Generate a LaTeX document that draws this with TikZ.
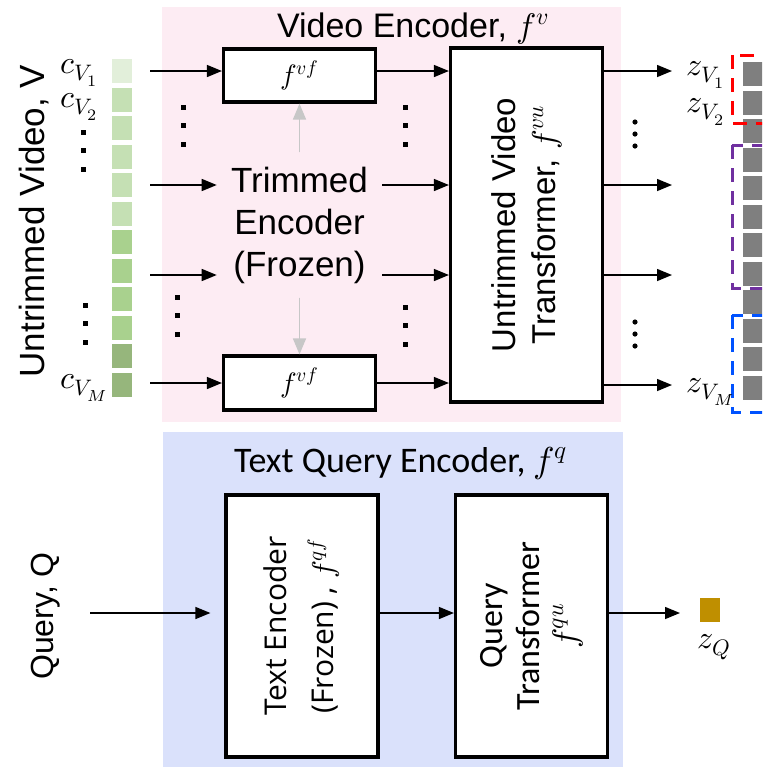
\documentclass[tikz,border=0pt]{standalone}
\usepackage{fontspec}
\usepackage{unicode-math}
\setmainfont{Liberation Sans}
\newfontfamily\calibri{Carlito}
\newfontfamily\opensans{Open Sans}
\usetikzlibrary{arrows.meta, positioning, calc}

\definecolor{vidbg}{RGB}{253,236,243}
\definecolor{qrybg}{RGB}{218,225,251}
\definecolor{gA}{RGB}{226,239,218}
\definecolor{gB}{RGB}{197,224,180}
\definecolor{gC}{RGB}{169,209,142}
\definecolor{gD}{RGB}{150,182,124}
\definecolor{feat}{RGB}{127,127,127}
\definecolor{gold}{RGB}{191,143,0}
\definecolor{dpurple}{RGB}{112,48,160}
\definecolor{dblue}{RGB}{0,82,255}

\tikzset{
  arr/.style={-{Triangle[length=7.5pt,width=6pt]}, line width=0.75pt},
  garr/.style={-{Triangle[length=8pt,width=6.5pt]}, line width=0.8pt, draw=black!22, fill=black!22},
  blk/.style={draw, line width=1.6pt, fill=white, minimum width=76pt, inner sep=0pt},
  lbl/.style={font=\fontsize{17}{20}\selectfont},
  mlbl/.style={anchor=base west, inner sep=0pt, font=\fontsize{16}{18}\selectfont},
  grp/.style={line width=1.5pt, dash pattern=on 7pt off 4.5pt},
}

\begin{document}
\begin{tikzpicture}[x=0.5pt, y=-0.5pt]
    \useasboundingbox (0,0) rectangle (762,767);
    \clip (0,0) rectangle (762,767);

    % background panels
    \fill[vidbg] (162,7) rectangle (621,422);
    \fill[qrybg] (163,432) rectangle (623,767);

    % clip features and output features
    \foreach \c [count=\i from 0] in {gA,gB,gB,gB,gB,gB,gC,gC,gC,gC,gD,gD} {
        \fill[\c] (112,59+28.5*\i) rectangle ++(20,24);
        \fill[feat] (743,62+28.5*\i) rectangle ++(30,24);
    }
    \draw[grp, red] (732,55) rectangle (790,123);
    \draw[grp, dpurple] (732,145) rectangle (790,288);
    \draw[grp, dblue] (732,315) rectangle (790,412);

    % left labels
    \node[rotate=90, anchor=base, font=\fontsize{17.5}{20}\selectfont] (vidLbl) at (45,221) {Untrimmed Video, V};
    \node[mlbl] (c1) at (60,73) {$c_{V_1}$};
    \node[mlbl] (c2) at (60,107) {$c_{V_2}$};
    \node[mlbl] (cM) at (60,388) {$c_{V_M}$};

    % video encoder
    \node[lbl, anchor=base] (vtitle) at (413,37) {Video Encoder, $f^{v}$};
    \node[blk, minimum height=26.5pt] (vfTop) at (299.5,75.5) {\fontsize{14}{16}\selectfont$f^{vf}$};
    \node[blk, minimum height=27pt] (vfBot) at (299.5,383) {\fontsize{14}{16}\selectfont$f^{vf}$};
    \node[align=center, inner sep=7pt, font=\fontsize{17.5}{21}\selectfont] (trim) at (299.5,225) {Trimmed\\Encoder\\(Frozen)};
    \node[blk, minimum height=177pt] (vut) at (526.5,225) {};
    \node[rotate=90, align=center, font=\fontsize{16.5}{20}\selectfont] (vutTxt) at (vut.center) {Untrimmed Video\\Transformer, $f^{vu}$};

    \draw[garr] (trim.north) -- (vfTop.south);
    \draw[garr] (trim.south) -- (vfBot.north);

    \coordinate (in1) at (150,71);
    \coordinate (in2) at (150,185);
    \coordinate (in3) at (150,275);
    \coordinate (in4) at (150,383);
    \draw[arr] (in1) -- (in1 -| vfTop.west);
    \draw[arr] (in2) -- (in2 -| trim.west);
    \draw[arr] (in3) -- (in3 -| trim.west);
    \draw[arr] (in4) -- (in4 -| vfBot.west);
    \draw[arr] (in1 -| vfTop.east) -- (in1 -| vut.west);
    \draw[arr] (in2 -| trim.east) -- (in2 -| vut.west);
    \draw[arr] (in3 -| trim.east) -- (in3 -| vut.west);
    \draw[arr] (in4 -| vfBot.east) -- (in4 -| vut.west);

    \coordinate (out1) at (672,71);
    \coordinate (out2) at (672,185);
    \coordinate (out3) at (672,275);
    \coordinate (out4) at (672,385);
    \foreach \o in {out1,out2,out3,out4}
        \draw[arr] (\o -| vut.east) -- (\o);

    \node[mlbl] (z1) at (686,75) {$z_{V_1}$};
    \node[mlbl] (z2) at (686,112) {$z_{V_2}$};
    \node[mlbl] (zM) at (686,392) {$z_{V_M}$};

    % ellipses
    \foreach \x/\y in {83/132, 85/305, 183/107, 177/297, 405/107, 405/307}
        \foreach \d in {0,18.5,37}
            \fill (\x-2.5,\y+\d-2.5) rectangle ++(5,5);
    \foreach \y in {122,322}
        \foreach \d in {0,12,24}
            \fill (635,\y+\d) circle (2.6);

    % text query encoder
    \node[rotate=90, anchor=base, font=\fontsize{16}{20}\selectfont] (qLbl) at (54,616) {Query, Q};
    \node[anchor=base, font=\calibri\fontsize{18}{20}\selectfont] (qtitle) at (401,472) {Text Query Encoder, $f^{q}$};
    \node[blk, minimum height=131pt] (tenc) at (302,626) {};
    \node[rotate=90, align=center, font=\opensans\fontsize{15}{23.5}\selectfont] (tencTxt) at (tenc.center) {Text Encoder\\(Frozen) , $f^{qf}$};
    \node[blk, minimum height=131pt] (qtr) at (531.5,626) {};
    \node[rotate=90, align=center, font=\calibri\fontsize{17}{18.5}\selectfont] (qtrTxt) at (qtr.center) {Query\\Transformer\\$f^{qu}$};

    \coordinate (qin) at (90,613);
    \coordinate (qout) at (680,613);
    \draw[arr] (qin) -- ($(qin -| tenc.west)+(-14,0)$);
    \draw[arr] (qin -| tenc.east) -- (qin -| qtr.west);
    \draw[arr] (qin -| qtr.east) -- (qout);
    \node[fill=gold, minimum width=10pt, minimum height=12pt, inner sep=0pt] (zq) at (710,610) {};
    \node[mlbl] (zqLbl) at (697,648) {$z_{Q}$};
\end{tikzpicture}
\end{document}
